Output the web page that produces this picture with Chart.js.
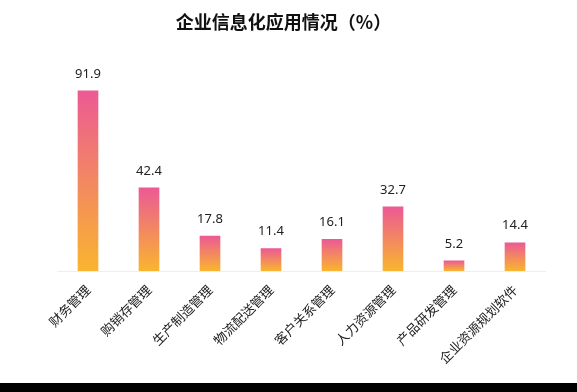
<!DOCTYPE html>
<html><head><meta charset="utf-8">
<script src="https://cdn.jsdelivr.net/npm/chart.js@4"></script>
<style>
html,body{margin:0;padding:0;background:#000;width:577px;height:392px;overflow:hidden}
#wrap{position:absolute;left:0;top:0;width:577px;height:383px;background:#fff}
</style></head><body>
<div id="wrap"><canvas id="c" width="577" height="383"></canvas></div>
<script>
const categories = ['财务管理','购销存管理','生产制造管理','物流配送管理','客户关系管理','人力资源管理','产品研发管理','企业资源规划软件'];
const values = [91.9, 42.4, 17.8, 11.4, 16.1, 32.7, 5.2, 14.4];
const titleText = '企业信息化应用情况（%）';
const yMin = 0, yMax = 100;

const valueLabels = {
  id: 'valueLabels',
  afterDatasetsDraw(chart) {
    const c = chart.ctx;
    const meta = chart.getDatasetMeta(0);
    c.save();
    c.font = '13px "Noto Sans", "Noto Sans CJK SC", sans-serif';
    c.fillStyle = '#222';
    c.textAlign = 'center';
    c.textBaseline = 'middle';
    meta.data.forEach((bar, i) => {
      c.fillText(values[i].toFixed(1), bar.x, bar.y - 17);
    });
    c.restore();
  }
};

new Chart(document.getElementById('c'), {
  type: 'bar',
  data: {
    labels: categories,
    datasets: [{
      data: values,
      yAxisID: 'y',
      barThickness: 20,
      borderWidth: 0,
      backgroundColor: (ctx) => {
        const chart = ctx.chart;
        const area = chart.chartArea;
        if (!area || ctx.type !== 'data') return '#F39A7E';
        const y = chart.scales.y;
        const top = y.getPixelForValue(ctx.raw);
        const bot = y.getPixelForValue(0);
        const g = chart.ctx.createLinearGradient(0, top, 0, bot);
        g.addColorStop(0, '#EC5A94');
        g.addColorStop(1, '#F9B52F');
        return g;
      }
    }]
  },
  options: {
    responsive: false,
    animation: false,
    devicePixelRatio: 1,
    layout: { padding: { left: 0, right: 10, top: 0, bottom: 0 } },
    plugins: {
      legend: { display: false },
      tooltip: { enabled: false },
      title: {
        display: true,
        text: titleText,
        color: '#111',
        font: { family: '"Noto Sans CJK SC", sans-serif', size: 18, weight: 'bold' },
        padding: { top: 11, bottom: 42.4 }
      }
    },
    scales: {
      x: {
        grid: { display: false, drawTicks: false },
        border: { display: true, color: '#eeeeee', width: 1 },
        ticks: {
          autoSkip: false,
          maxRotation: 45,
          minRotation: 45,
          padding: 11,
          color: '#222',
          font: { family: '"Noto Sans CJK SC", sans-serif', size: 13 }
        },
        afterFit(scale) { scale.height = 112; }
      },
      y: {
        display: true,
        position: 'left',
        min: yMin, max: yMax,
        grid: { display: false, drawTicks: false },
        border: { display: false },
        ticks: { display: false },
        afterFit(scale) { scale.width = 57.5; }
      },
      y2: {
        display: true,
        position: 'right',
        grid: { display: false, drawTicks: false },
        border: { display: false },
        ticks: { display: false },
        afterFit(scale) { scale.width = 21.5; }
      }
    }
  },
  plugins: [valueLabels]
});
</script>
</body></html>
